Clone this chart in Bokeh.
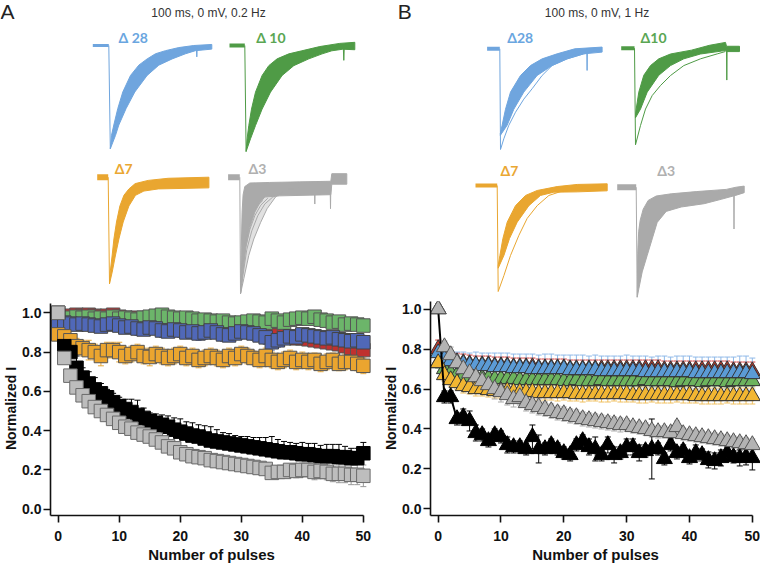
from bokeh.plotting import figure
from bokeh.layouts import column, row
from bokeh.models import Range1d, ColumnDataSource, Whisker, TeeHead, PrintfTickFormatter, FixedTicker
from bokeh.core.properties import value
from bokeh.embed import file_html
from bokeh.resources import INLINE

# ---------------- data: summary plots ----------------
PULSES = list(range(51))
X_TICKS = [0, 10, 20, 30, 40, 50]
Y_TICKS = [0.0, 0.2, 0.4, 0.6, 0.8, 1.0]

A_red = [0.97,0.98,0.985,0.99,0.985,0.99,0.985,0.98,0.985,0.99,
         0.98,0.975,0.97,0.975,0.965,0.96,0.965,0.955,0.95,0.955,
         0.945,0.94,0.945,0.935,0.93,0.935,0.925,0.92,0.915,0.92,
         0.91,0.905,0.90,0.905,0.895,0.89,0.885,0.88,0.875,0.87,
         0.87,0.865,0.86,0.855,0.85,0.845,0.84,0.83,0.82,0.815,0.81]
A_green = [0.95,0.97,0.975,0.98,0.975,0.98,0.97,0.975,0.97,0.98,
           0.97,0.975,0.97,0.965,0.975,0.98,0.985,0.99,0.98,0.975,
           0.97,0.975,0.97,0.96,0.965,0.96,0.955,0.96,0.95,0.945,
           0.95,0.955,0.96,0.955,0.95,0.97,0.96,0.95,0.965,0.97,
           0.975,0.97,0.98,0.965,0.96,0.95,0.955,0.94,0.945,0.94,0.935]
A_blue = [0.95,0.95,0.945,0.94,0.945,0.94,0.935,0.93,0.94,0.945,
          0.935,0.925,0.93,0.92,0.915,0.925,0.92,0.91,0.905,0.915,
          0.91,0.90,0.905,0.895,0.90,0.91,0.90,0.89,0.885,0.895,
          0.905,0.90,0.895,0.885,0.875,0.85,0.86,0.87,0.88,0.875,
          0.89,0.885,0.88,0.875,0.87,0.875,0.865,0.86,0.855,0.86,0.85]
A_orange = [0.89,0.88,0.86,0.83,0.82,0.81,0.80,0.78,0.81,0.81,
            0.80,0.78,0.79,0.80,0.78,0.775,0.79,0.78,0.77,0.78,
            0.79,0.77,0.78,0.76,0.77,0.78,0.77,0.76,0.78,0.77,
            0.79,0.78,0.77,0.76,0.78,0.76,0.75,0.76,0.77,0.75,
            0.76,0.75,0.76,0.74,0.75,0.76,0.74,0.75,0.75,0.74,0.73]
A_black = [1.00,0.83,0.80,0.72,0.67,0.64,0.61,0.59,0.57,0.545,
           0.525,0.51,0.495,0.48,0.465,0.45,0.44,0.43,0.42,0.405,
           0.395,0.385,0.375,0.37,0.36,0.35,0.345,0.34,0.335,0.33,
           0.325,0.32,0.315,0.31,0.305,0.30,0.295,0.29,0.29,0.285,
           0.28,0.28,0.275,0.27,0.27,0.27,0.265,0.265,0.26,0.26,0.285]
A_gray = [1.00,0.77,0.68,0.62,0.58,0.55,0.52,0.50,0.48,0.46,
          0.44,0.42,0.41,0.39,0.38,0.37,0.355,0.34,0.32,0.31,
          0.29,0.28,0.27,0.265,0.26,0.25,0.245,0.24,0.235,0.23,
          0.225,0.22,0.215,0.21,0.205,0.185,0.19,0.19,0.20,0.195,
          0.20,0.20,0.19,0.195,0.19,0.18,0.18,0.18,0.175,0.175,0.17]

A_red_err = [0.02] * 51
A_green_err = [0.02] * 51
A_blue_err = [0.03,0.03,0.03,0.03,0.03,0.03,0.03,0.03,0.03,0.03,
              0.03,0.03,0.03,0.035,0.03,0.03,0.03,0.035,0.03,0.03,
              0.035,0.03,0.03,0.035,0.035,0.03,0.03,0.035,0.03,0.03,
              0.03,0.03,0.035,0.03,0.035,0.04,0.035,0.03,0.03,0.03,
              0.03,0.03,0.03,0.03,0.035,0.03,0.03,0.035,0.03,0.03,0.035]
A_orange_err = [0.03,0.03,0.035,0.04,0.04,0.05,0.04,0.05,0.04,0.04,
                0.05,0.04,0.04,0.04,0.04,0.045,0.04,0.04,0.04,0.04,
                0.04,0.04,0.04,0.04,0.04,0.04,0.04,0.04,0.04,0.04,
                0.04,0.04,0.035,0.04,0.04,0.04,0.04,0.04,0.04,0.04,
                0.04,0.04,0.035,0.04,0.04,0.035,0.035,0.04,0.035,0.035,0.04]
A_black_err = [0.0,0.03,0.04,0.06,0.05,0.06,0.06,0.05,0.04,0.045,
               0.045,0.05,0.065,0.075,0.05,0.04,0.045,0.05,0.055,0.06,
               0.065,0.06,0.065,0.06,0.065,0.07,0.06,0.05,0.05,0.045,
               0.045,0.05,0.05,0.055,0.06,0.07,0.06,0.055,0.05,0.05,
               0.06,0.055,0.06,0.055,0.06,0.06,0.065,0.055,0.05,0.05,0.055]
A_gray_err = [0.0,0.02,0.02,0.02,0.02,0.02,0.02,0.02,0.02,0.02,
              0.02,0.02,0.02,0.02,0.02,0.02,0.02,0.02,0.02,0.02,
              0.02,0.02,0.02,0.02,0.025,0.025,0.025,0.025,0.025,0.025,
              0.025,0.025,0.025,0.03,0.03,0.03,0.03,0.03,0.03,0.035,
              0.035,0.035,0.04,0.04,0.04,0.04,0.045,0.045,0.05,0.05,0.055]

B_red = [0.80,0.76,0.745,0.735,0.73,0.725,0.72,0.72,0.72,0.715,
         0.715,0.715,0.71,0.71,0.71,0.71,0.705,0.705,0.705,0.705,
         0.705,0.70,0.70,0.70,0.70,0.70,0.70,0.70,0.70,0.70,
         0.70,0.70,0.70,0.70,0.70,0.70,0.695,0.695,0.695,0.695,
         0.695,0.695,0.695,0.695,0.695,0.695,0.695,0.69,0.69,0.69,0.69]
B_blue = [0.78,0.75,0.74,0.73,0.725,0.72,0.72,0.715,0.715,0.71,
          0.71,0.71,0.705,0.705,0.705,0.70,0.70,0.70,0.70,0.70,
          0.70,0.695,0.695,0.695,0.695,0.695,0.69,0.69,0.69,0.69,
          0.69,0.69,0.69,0.685,0.685,0.685,0.685,0.685,0.685,0.685,
          0.685,0.68,0.68,0.68,0.68,0.68,0.68,0.68,0.68,0.68,0.675]
B_green = [0.73,0.70,0.68,0.67,0.665,0.66,0.66,0.655,0.655,0.65,
           0.65,0.65,0.65,0.645,0.645,0.645,0.645,0.645,0.645,0.645,
           0.64,0.64,0.645,0.64,0.64,0.64,0.645,0.64,0.64,0.64,
           0.64,0.64,0.64,0.645,0.64,0.64,0.64,0.64,0.635,0.64,
           0.64,0.64,0.635,0.64,0.64,0.64,0.635,0.64,0.64,0.64,0.64]
B_orange = [0.73,0.67,0.645,0.63,0.615,0.61,0.60,0.60,0.595,0.59,
            0.59,0.59,0.585,0.585,0.585,0.585,0.58,0.58,0.58,0.58,
            0.58,0.58,0.575,0.575,0.575,0.575,0.575,0.575,0.575,0.575,
            0.575,0.57,0.57,0.57,0.57,0.57,0.57,0.57,0.57,0.57,
            0.57,0.565,0.565,0.565,0.565,0.565,0.565,0.565,0.565,0.565,0.565]
B_gray = [1.0,0.81,0.77,0.73,0.70,0.68,0.66,0.64,0.62,0.60,
          0.585,0.57,0.55,0.56,0.53,0.52,0.51,0.50,0.49,0.48,
          0.475,0.465,0.46,0.45,0.445,0.44,0.435,0.43,0.425,0.42,
          0.42,0.41,0.405,0.40,0.39,0.385,0.385,0.38,0.41,0.375,
          0.37,0.365,0.36,0.355,0.35,0.345,0.34,0.335,0.33,0.325,0.32]
B_black = [1.0,0.56,0.56,0.45,0.46,0.44,0.38,0.37,0.34,0.37,
           0.36,0.32,0.31,0.31,0.30,0.36,0.30,0.30,0.32,0.30,
           0.28,0.27,0.32,0.34,0.31,0.30,0.27,0.32,0.27,0.28,
           0.31,0.31,0.28,0.29,0.30,0.30,0.25,0.32,0.28,0.29,
           0.255,0.28,0.27,0.245,0.24,0.255,0.28,0.26,0.255,0.26,0.255]

B_red_err = [0.045] * 51
B_blue_err = [0.02,0.04,0.05,0.055,0.06,0.06,0.065,0.065,0.065,0.07,
              0.07,0.07,0.07,0.07,0.07,0.075,0.07,0.075,0.075,0.07,
              0.07,0.075,0.075,0.075,0.07,0.075,0.075,0.075,0.075,0.075,
              0.08,0.075,0.075,0.08,0.075,0.08,0.08,0.075,0.08,0.08,
              0.08,0.08,0.08,0.08,0.08,0.08,0.08,0.08,0.085,0.085,0.08]
B_green_err = [0.025] * 51
B_orange_err = [0.02,0.03,0.03,0.03,0.035,0.035,0.035,0.035,0.035,0.035,
                0.035,0.035,0.035,0.04,0.035,0.035,0.04,0.035,0.035,0.04,
                0.035,0.04,0.035,0.04,0.035,0.035,0.04,0.04,0.035,0.04,
                0.04,0.035,0.04,0.04,0.035,0.04,0.04,0.04,0.035,0.04,
                0.04,0.035,0.04,0.04,0.04,0.04,0.035,0.04,0.04,0.04,0.04]
B_gray_err = [0.0,0.03,0.04,0.04,0.04,0.04,0.04,0.04,0.04,0.05,
              0.05,0.05,0.04,0.04,0.04,0.04,0.04,0.035,0.035,0.035,
              0.035,0.035,0.035,0.035,0.035,0.035,0.035,0.035,0.035,0.035,
              0.03,0.03,0.03,0.03,0.03,0.03,0.03,0.03,0.03,0.03,
              0.03,0.03,0.03,0.03,0.03,0.03,0.03,0.03,0.03,0.03,0.03]
B_black_err = [0.0,0.03,0.03,0.03,0.04,0.05,0.04,0.03,0.03,0.03,
               0.03,0.04,0.03,0.03,0.03,0.06,0.07,0.03,0.03,0.03,
               0.03,0.03,0.03,0.03,0.04,0.06,0.03,0.04,0.04,0.03,
               0.04,0.04,0.04,0.03,0.15,0.03,0.03,0.03,0.03,0.03,
               0.03,0.04,0.03,0.04,0.04,0.04,0.03,0.03,0.04,0.04,0.06]

# ---------------- data: current traces (time in ms, current normalised to peak) ----------------
A28_pre_t = [-16, 0]
A28_fast_t = [1.5, 2.7, 5, 9, 14, 21.7, 30, 38.3, 46.7, 56.7, 70, 85, 103]
A28_fast_v = [-1.0, -0.87, -0.77, -0.61, -0.45, -0.29, -0.19, -0.13, -0.08, -0.05, -0.02, 0.0, 0.01]
A28_slow_t = [1.5, 6.7, 10, 17.3, 26, 38.3, 50, 63.3, 76.7, 86.7, 103]
A28_slow_v = [-1.0, -0.87, -0.77, -0.61, -0.45, -0.29, -0.19, -0.13, -0.08, -0.05, -0.035]
A28_spike_t = [87.5, 88.0, 88.5]
A28_spike_v = [-0.02, -0.11, -0.02]

A10_pre_t = [-15.3, 0]
A10_fast_t = [1.3, 2.3, 4, 6.7, 10.7, 17.3, 24, 32.3, 44, 57, 75, 95, 110]
A10_fast_v = [-1.0, -0.88, -0.755, -0.6, -0.44, -0.283, -0.19, -0.126, -0.079, -0.05, -0.01, 0.02, 0.03]
A10_slow_t = [1.3, 5.7, 10.7, 17.3, 25.7, 37.3, 49, 64, 77.3, 87, 98, 110]
A10_slow_v = [-1.0, -0.88, -0.755, -0.6, -0.44, -0.283, -0.19, -0.126, -0.079, -0.05, -0.035, -0.04]
A10_spike_t = [98.5, 99.0, 99.5]
A10_spike_v = [-0.02, -0.14, -0.02]

A7_pre_t = [-11, 0]
A7_fast_t = [1.3, 2, 4, 5.7, 8.3, 11.7, 15.7, 20.7, 27, 40, 60, 100.7]
A7_fast_v = [-1.0, -0.89, -0.73, -0.58, -0.42, -0.27, -0.17, -0.11, -0.06, -0.03, -0.01, 0.0]
A7_slow_t = [1.3, 4, 7.3, 10.7, 15, 20.7, 27.3, 35.7, 50, 100.7]
A7_slow_v = [-1.0, -0.89, -0.73, -0.58, -0.42, -0.27, -0.17, -0.13, -0.11, -0.10]

A3_pre_t = [-11.7, 0]
A3_fast_t = [0.7, 1.5, 2.3, 3.3, 5, 10, 30, 60, 91, 92, 107]
A3_fast_v = [-1.0, -0.6, -0.3, -0.15, -0.08, -0.05, -0.045, -0.04, -0.035, 0.03, 0.03]
A3_mid_t = [0.7, 3, 6, 10, 15, 20, 25, 40, 91, 92, 107]
A3_mid_v = [-1.0, -0.8, -0.6, -0.43, -0.3, -0.22, -0.17, -0.16, -0.15, -0.06, -0.06]
A3_slow_t = [0.7, 4, 9, 14, 20.7, 27.3, 35.7, 45.7, 59]
A3_slow_v = [-1.0, -0.87, -0.67, -0.53, -0.39, -0.27, -0.17, -0.11, -0.09]
A3_l2_t = [0.7, 3, 7, 12, 18, 25, 33, 42]
A3_l2_v = [-1.0, -0.85, -0.62, -0.46, -0.33, -0.23, -0.17, -0.14]
A3_l3_t = [0.7, 2.5, 6, 10, 15, 21, 28]
A3_l3_v = [-1.0, -0.86, -0.6, -0.45, -0.33, -0.24, -0.18]
A3_l4_t = [0.7, 2, 5, 8, 12, 17, 23]
A3_l4_v = [-0.9, -0.8, -0.58, -0.45, -0.34, -0.25, -0.2]
A3_spike1_t = [74.7, 75.0, 75.3]
A3_spike1_v = [-0.1, -0.23, -0.1]
A3_spike2_t = [90.4, 90.7, 91.0]
A3_spike2_v = [-0.1, -0.27, -0.1]

B28_pre_t = [-12.7, 0]
B28_fast_t = [0.5, 2.3, 5.7, 10.7, 20.7, 30.7, 42.3, 57.3, 75, 102.3]
B28_fast_v = [-0.84, -0.76, -0.6, -0.43, -0.265, -0.166, -0.1, -0.05, 0.0, 0.017]
B28_slow_t = [0.5, 7.3, 14, 24, 37.3, 52.3, 67.3, 84, 102.3]
B28_slow_v = [-0.86, -0.76, -0.6, -0.43, -0.265, -0.166, -0.1, -0.05, -0.033]
B28_out_t = [0.7, 4, 9, 15.7, 24, 32.3, 42.3, 52.3, 67.3, 84, 97]
B28_out_v = [-1.0, -0.894, -0.76, -0.63, -0.5, -0.397, -0.265, -0.166, -0.1, -0.05, -0.017]
B28_spike_t = [87.0, 87.3, 87.6]
B28_spike_v = [-0.02, -0.215, -0.02]

B10_pre_t = [-13.3, 0]
B10_fast_t = [1, 1.7, 4.3, 9.3, 16, 24.3, 36, 57, 75, 91, 92, 105]
B10_fast_v = [-0.69, -0.63, -0.455, -0.28, -0.18, -0.11, -0.06, -0.02, 0.03, 0.06, 0.02, 0.02]
B10_slow_t = [1, 6, 12.7, 24.3, 36, 49.3, 66, 87, 91, 92, 105]
B10_slow_v = [-0.72, -0.63, -0.455, -0.28, -0.18, -0.11, -0.06, -0.03, -0.024, -0.035, -0.035]
B10_out_t = [1, 6, 11, 17.7, 26, 36, 49.3, 66, 82.7, 91]
B10_out_v = [-1.0, -0.8, -0.63, -0.49, -0.386, -0.283, -0.18, -0.11, -0.059, -0.034]
B10_spike_t = [92.0, 92.3, 92.6]
B10_spike_v = [-0.02, -0.33, -0.02]

B7_pre_t = [-21.7, 0]
B7_fast_t = [1, 2.7, 5.7, 10, 18.3, 28.3, 40, 60, 80, 110]
B7_fast_v = [-0.755, -0.66, -0.5, -0.346, -0.19, -0.094, -0.047, -0.01, 0.01, 0.016]
B7_slow_t = [1, 6.7, 12.3, 20, 31.7, 43.3, 56.7, 80, 110]
B7_slow_v = [-0.78, -0.66, -0.5, -0.346, -0.19, -0.094, -0.063, -0.06, -0.05]
B7_out_t = [1, 6.7, 13.3, 21.7, 30, 40, 51.7, 66.7, 85]
B7_out_v = [-1.0, -0.85, -0.66, -0.47, -0.31, -0.19, -0.094, -0.047, -0.02]

B3_pre_t = [-19, 0]
B3_fast_t = [1, 1.5, 2.5, 4, 7, 12, 20, 35, 60, 90, 100, 108]
B3_fast_v = [-1.0, -0.6, -0.4, -0.3, -0.2, -0.12, -0.08, -0.06, -0.04, -0.02, 0.0, 0.01]
B3_slow_t = [1, 2.7, 6, 11, 16, 21, 30, 45, 68, 85, 101, 108]
B3_slow_v = [-1.0, -0.92, -0.77, -0.62, -0.47, -0.32, -0.22, -0.18, -0.15, -0.11, -0.07, -0.05]
B3_spike_t = [97.5, 97.8, 98.1]
B3_spike_v = [-0.05, -0.38, -0.05]

# ---------------- layout constants ----------------
COL_W = 380
TOP_H = 298
BOT_H = 267
FONT = "Liberation Sans"

C_BLUE_T = "#6fa5de"
C_GREEN_T = "#4f9b46"
C_ORANGE_T = "#e9a630"
C_GRAY_T = "#aaaaaa"


def top_fig(x0):
    p = figure(width=COL_W, height=TOP_H, x_range=Range1d(x0, x0 + COL_W),
               y_range=Range1d(TOP_H, 0), x_axis_type=None, y_axis_type=None,
               output_backend="svg", toolbar_location=None, tools="", min_border=0)
    p.outline_line_color = None
    return p


def trace_ranges(p, key, x_step, y_base, y_trough):
    ky = y_trough - y_base
    p.extra_x_ranges[key] = Range1d(p.x_range.start - x_step, p.x_range.end - x_step)
    p.extra_y_ranges[key] = Range1d((y_base - p.y_range.start) / ky, (y_base - p.y_range.end) / ky)


def draw_trace(p, key, color, pre_t, drop_t, fast_t, fast_v, slow_t, slow_v, base_w=3):
    kw = dict(x_range_name=key, y_range_name=key)
    p.line(pre_t, [0, 0], line_color=color, line_width=base_w, **kw)
    p.line([0, 0, drop_t], [0, 0, -1], line_color=color, line_width=1, **kw)
    p.patch(fast_t + slow_t[::-1], fast_v + slow_v[::-1], fill_color=color,
            line_color=color, line_width=1, **kw)


def thin(p, key, color, t, v, w=1.0, alpha=1.0):
    p.line(t, v, line_color=color, line_width=w, line_alpha=alpha,
           x_range_name=key, y_range_name=key)


def label(p, x, y, txt, color, size="14px", font="Lato", style="bold", align="left"):
    p.text(x=[x], y=[y], text=[txt], text_color=color, text_font=value(font),
           text_font_style=style, text_font_size=size, text_baseline="middle", text_align=align)


# ---------- top A ----------
tA = top_fig(0)
label(tA, 0, 10.5, "A", "#222222", size="21px", font=FONT, style="normal")
label(tA, 208, 12.5, "100 ms, 0 mV, 0.2 Hz", "#333333", size="12px", font=FONT, style="normal", align="center")

trace_ranges(tA, "a28", 108.3, 45, 148.3)
draw_trace(tA, "a28", C_BLUE_T, A28_pre_t, 1.5, A28_fast_t, A28_fast_v, A28_slow_t, A28_slow_v, 3)
thin(tA, "a28", C_BLUE_T, A28_spike_t, A28_spike_v)
label(tA, 118, 37, "Δ 28", "#6aa6e0")

trace_ranges(tA, "a10", 244.3, 45, 151)
draw_trace(tA, "a10", C_GREEN_T, A10_pre_t, 1.3, A10_fast_t, A10_fast_v, A10_slow_t, A10_slow_v, 4)
thin(tA, "a10", C_GREEN_T, A10_spike_t, A10_spike_v)
label(tA, 255.7, 37, "Δ 10", "#5aa653")

trace_ranges(tA, "a7", 107.7, 176.7, 283.3)
draw_trace(tA, "a7", C_ORANGE_T, A7_pre_t, 1.3, A7_fast_t, A7_fast_v, A7_slow_t, A7_slow_v, 6)
label(tA, 114.3, 168, "Δ7", "#eaa732")

trace_ranges(tA, "a3", 239.3, 176.7, 293.3)
tA.patch(A3_slow_t + A3_mid_t[:7][::-1], A3_slow_v + A3_mid_v[:7][::-1], fill_color=C_GRAY_T,
         fill_alpha=0.35, line_color=None, x_range_name="a3", y_range_name="a3")
draw_trace(tA, "a3", C_GRAY_T, A3_pre_t, 0.7, A3_fast_t, A3_fast_v, A3_mid_t, A3_mid_v, 6)
for t, v in [(A3_slow_t, A3_slow_v), (A3_l2_t, A3_l2_v), (A3_l3_t, A3_l3_v), (A3_l4_t, A3_l4_v),
             (A3_spike1_t, A3_spike1_v), (A3_spike2_t, A3_spike2_v)]:
    thin(tA, "a3", C_GRAY_T, t, v)
label(tA, 248, 168, "Δ3", "#b0b0b0")

# ---------- top B ----------
tB = top_fig(380)
label(tB, 397.3, 10.5, "B", "#222222", size="21px", font=FONT, style="normal")
label(tB, 596.5, 12.5, "100 ms, 0 mV, 1 Hz", "#333333", size="12px", font=FONT, style="normal", align="center")

trace_ranges(tB, "b28", 499.3, 48.3, 149)
draw_trace(tB, "b28", C_BLUE_T, B28_pre_t, 0.7, B28_fast_t, B28_fast_v, B28_slow_t, B28_slow_v, 4)
thin(tB, "b28", C_BLUE_T, B28_out_t, B28_out_v)
thin(tB, "b28", C_BLUE_T, B28_spike_t, B28_spike_v)
label(tB, 506.7, 37, "Δ28", "#6aa6e0")

trace_ranges(tB, "b10", 634, 47.7, 144.3)
draw_trace(tB, "b10", C_GREEN_T, B10_pre_t, 1.0, B10_fast_t, B10_fast_v, B10_slow_t, B10_slow_v, 4)
thin(tB, "b10", C_GREEN_T, B10_out_t, B10_out_v)
thin(tB, "b10", C_GREEN_T, B10_spike_t, B10_spike_v)
label(tB, 640, 37, "Δ10", "#5aa653")

trace_ranges(tB, "b7", 496.7, 185, 291)
draw_trace(tB, "b7", C_ORANGE_T, B7_pre_t, 1.0, B7_fast_t, B7_fast_v, B7_slow_t, B7_slow_v, 4)
thin(tB, "b7", C_ORANGE_T, B7_out_t, B7_out_v)
label(tB, 500, 170, "Δ7", "#eaa732")

trace_ranges(tB, "b3", 635.7, 186.7, 296.7)
draw_trace(tB, "b3", C_GRAY_T, B3_pre_t, 1.0, B3_fast_t, B3_fast_v, B3_slow_t, B3_slow_v, 6)
thin(tB, "b3", C_GRAY_T, B3_spike_t, B3_spike_v)
label(tB, 656.7, 170, "Δ3", "#b0b0b0")


# ---------- bottom plots ----------
def bot_fig(xr, yr, mbl, mbr, mbt, mbb, xb, yb):
    p = figure(width=COL_W, height=BOT_H, x_range=Range1d(*xr), y_range=Range1d(*yr),
               output_backend="svg", toolbar_location=None, tools="",
               min_border_left=mbl, min_border_right=mbr, min_border_top=mbt, min_border_bottom=mbb)
    p.grid.visible = False
    p.outline_line_color = None
    p.xaxis.ticker = FixedTicker(ticks=X_TICKS)
    p.yaxis.ticker = FixedTicker(ticks=Y_TICKS)
    p.yaxis.formatter = PrintfTickFormatter(format="%.1f")
    p.xaxis.bounds = xb
    p.yaxis.bounds = yb
    p.xaxis.axis_label = "Number of pulses"
    p.yaxis.axis_label = "Normalized I"
    for ax in p.axis:
        ax.axis_line_width = 1.6
        ax.axis_line_color = "#111111"
        ax.major_tick_line_width = 1.6
        ax.major_tick_line_color = "#111111"
        ax.major_tick_out = 7
        ax.major_tick_in = 0
        ax.minor_tick_out = 0
        ax.minor_tick_in = 0
        ax.major_label_text_font = FONT
        ax.major_label_text_font_style = "bold"
        ax.major_label_text_font_size = "14px"
        ax.major_label_text_color = "#111111"
        ax.axis_label_text_font = FONT
        ax.axis_label_text_font_style = "bold"
        ax.axis_label_text_color = "#111111"
    p.xaxis.axis_label_text_font_size = "15px"
    p.yaxis.axis_label_text_font_size = "14px"
    p.xaxis.major_label_standoff = 8
    p.yaxis.major_label_standoff = 2
    p.xaxis.axis_label_standoff = 2
    p.yaxis.axis_label_standoff = 0
    return p


def add_err(p, y, e, color, upper_only=False, head=6):
    up = [a + b for a, b in zip(y, e)]
    lo = list(y) if upper_only else [a - b for a, b in zip(y, e)]
    src = ColumnDataSource(dict(x=PULSES, upper=up, lower=lo))
    w = Whisker(source=src, base="x", upper="upper", lower="lower", line_color=color, line_width=1,
                upper_head=TeeHead(size=head, line_color=color, line_width=1),
                lower_head=None if upper_only else TeeHead(size=head, line_color=color, line_width=1))
    p.add_layout(w)


bA = bot_fig((-1.26, 51.5), (-0.032, 1.0575), 50, 8, 3, 50, (-1.26, 50), (-0.032, 1.047))
add_err(bA, A_red, A_red_err, "#c0312f")
add_err(bA, A_green, A_green_err, "#5aa05a")
add_err(bA, A_blue, A_blue_err, "#4a62b8")
add_err(bA, A_orange, A_orange_err, "#e8a838")
add_err(bA, A_black, A_black_err, "#000000", upper_only=True)
add_err(bA, A_gray, A_gray_err, "#999999")
SQ = 13.5
for ys, fc, lc in [(A_red, "#c0312f", "#555555"), (A_green, "#6cb56a", "#555555"),
                   (A_blue, "#5068b8", "#444444"), (A_orange, "#eba52f", "#555555"),
                   (A_black, "#000000", "#000000"), (A_gray, "#bdbdbd", "#6a6a6a")]:
    bA.scatter(PULSES, ys, marker="square", size=SQ, fill_color=fc, line_color=lc, line_width=1)

bB = bot_fig((-1.22, 51.3), (-0.033, 1.038), 49, 0, 0, 50, (-1.22, 50), (-0.033, 1.038))
add_err(bB, B_red, B_red_err, "#d03a3a")
add_err(bB, B_blue, B_blue_err, "#8fb9e8")
add_err(bB, B_green, B_green_err, "#6fb060")
add_err(bB, B_orange, B_orange_err, "#f0c060")
add_err(bB, B_gray, B_gray_err, "#aaaaaa")
add_err(bB, B_black, B_black_err, "#000000")
TR = 16
for ys, fc in [(B_red, "#c0392b"), (B_green, "#6cb35d"), (B_blue, "#5b9bd5"),
               (B_orange, "#f2b632")]:
    bB.scatter(PULSES, ys, marker="triangle", size=TR, fill_color=fc, line_color="#333333", line_width=1)
bB.line(PULSES[:4], B_black[:4], line_color="#000000", line_width=2)
bB.scatter(PULSES, B_black, marker="triangle", size=TR, fill_color="#000000", line_color="#000000", line_width=1)
bB.scatter(PULSES, B_gray, marker="triangle", size=TR, fill_color="#b3b3b3", line_color="#555555", line_width=1)

layout = column(row(tA, tB), row(bA, bB))
open("out.html", "w").write(file_html(layout, INLINE))
